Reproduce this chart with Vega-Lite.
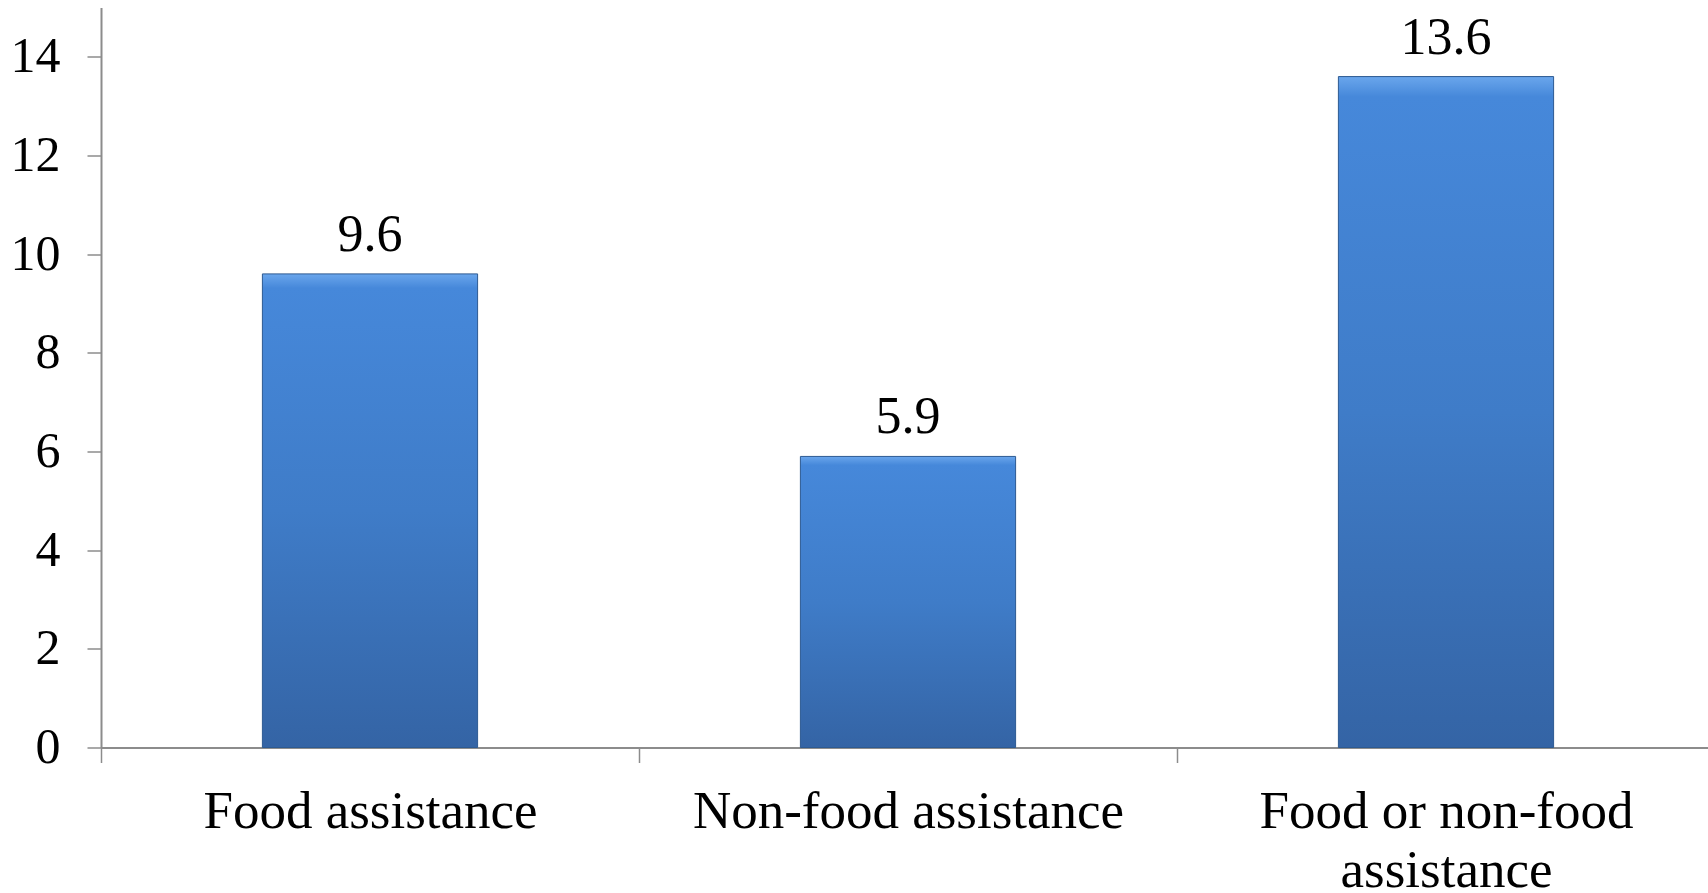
{
  "$schema": "https://vega.github.io/schema/vega-lite/v6.json",
  "autosize": {"type": "none"},
  "padding": {"left": 101, "top": 7.5, "right": -7, "bottom": 145.5},
  "width": 1614,
  "height": 740,
  "background": "white",
  "data": {"values": [
    {"category": "Food assistance", "value": 9.6},
    {"category": "Non-food assistance", "value": 5.9},
    {"category": "Food or non-food assistance", "value": 13.6}
  ]},
  "encoding": {
    "x": {
      "field": "category", "type": "nominal", "sort": null,
      "scale": {"paddingInner": 0.6, "paddingOuter": 0.3},
      "axis": {
        "title": null, "labelAngle": 0,
        "tickOffset": -269, "labelOffset": 269,
        "domainColor": "#8c8c8c", "domainWidth": 2,
        "tickColor": "#8c8c8c", "tickWidth": 1.5, "tickSize": 15,
        "labelFont": "Liberation Serif", "labelFontSize": 53, "labelColor": "black",
        "labelPadding": 23, "labelLineHeight": 59, "labelLimit": 0,
        "labelExpr": "datum.label == 'Food or non-food assistance' ? ['Food or non-food', 'assistance'] : datum.label"
      }
    },
    "y": {
      "field": "value", "type": "quantitative",
      "scale": {"domain": [0, 15], "nice": false},
      "axis": {
        "title": null, "values": [0, 2, 4, 6, 8, 10, 12, 14], "grid": false,
        "domainColor": "#8c8c8c", "domainWidth": 2,
        "tickColor": "#8c8c8c", "tickWidth": 1.5, "tickSize": 14,
        "labelFont": "Liberation Serif", "labelFontSize": 50, "labelColor": "black",
        "labelPadding": 27
      }
    }
  },
  "layer": [
    {
      "mark": {
        "type": "bar",
        "stroke": "#2d5a92", "strokeWidth": 1,
        "color": {
          "gradient": "linear", "x1": 0, "y1": 0, "x2": 0, "y2": 1,
          "stops": [
            {"offset": 0, "color": "#6aa6ec"},
            {"offset": 0.03, "color": "#4688da"},
            {"offset": 0.5, "color": "#3f7cc8"},
            {"offset": 1, "color": "#3464a5"}
          ]
        }
      }
    },
    {
      "mark": {"type": "text", "font": "Liberation Serif", "fontSize": 52, "color": "black", "baseline": "alphabetic", "dy": -23},
      "encoding": {"text": {"field": "value", "type": "quantitative", "format": ".1f"}}
    }
  ],
  "config": {"view": {"stroke": null}}
}
